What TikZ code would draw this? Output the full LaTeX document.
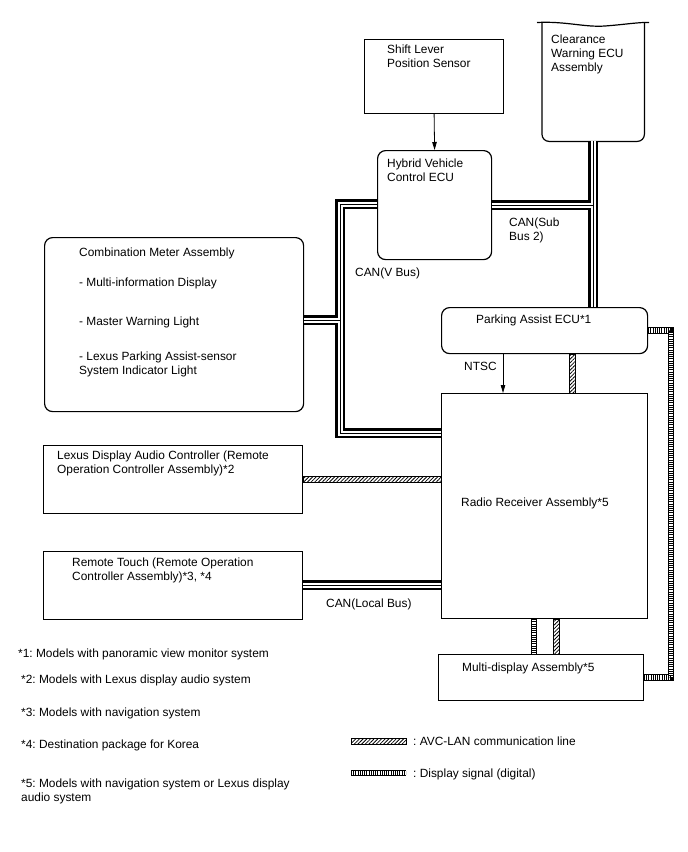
\documentclass[tikz,border=0pt]{standalone}
\usepackage{fontspec}
\setmainfont{Liberation Sans}
\frenchspacing
\usetikzlibrary{arrows.meta,patterns.meta,calc}
\begin{document}
\begin{tikzpicture}[x=1pt,y=-1pt,
  box/.style={draw, line width=1.2pt, inner sep=0, anchor=north west},
  rbox/.style={box, rounded corners=8pt},
  lbl/.style={inner sep=0, anchor=base west, align=left, font=\fontsize{11.9}{14}\selectfont\frenchspacing},
  arr/.style={line width=0.8pt, -{Triangle[length=8pt,width=4.5pt]}},
  busouter/.style={line width=10.5pt, line join=miter},
  buswhite/.style={white, line width=5pt, line join=miter},
  businner/.style={line width=0.9pt, line join=miter},
  avc/.style={draw, line width=0.7pt, pattern={Lines[angle=45,distance=2.6pt,line width=0.8pt]}},
  dsouter/.style={line width=6.5pt, line join=miter},
  dswhite/.style={white, line width=4.8pt, line join=miter},
  dsticks/.style={line width=4.8pt, dash pattern=on 0.9pt off 1.3pt},
]
\useasboundingbox (0,0) rectangle (688,852);

% boxes
\node[box, minimum width=139, minimum height=74] (slp) at (364,39) {};
\node[inner sep=0, anchor=north west, minimum width=102, minimum height=118] (cw) at (542,23) {};
\node[rbox, minimum width=114, minimum height=109] (hv) at (377,150) {};
\node[rbox, minimum width=206, minimum height=46] (pa) at (441,307) {};
\node[box, minimum width=206, minimum height=225] (radio) at (441,393) {};
\node[box, minimum width=205, minimum height=46] (md) at (438,654) {};
\node[rbox, minimum width=259, minimum height=174] (cm) at (44,237) {};
\node[box, minimum width=259, minimum height=68] (lda) at (43,445) {};
\node[box, minimum width=259, minimum height=68] (rt) at (43,551) {};

% clearance warning ECU shape
\draw[line width=1.2pt, rounded corners=7pt] (cw.north west) -- (cw.south west) -- (cw.south east) -- (cw.north east);
\draw[line width=1.2pt] (537,22.5) .. controls (565,21) and (585,27.5) .. (605,26) .. controls (625,24.5) and (640,22) .. (649,22.5);

% bus coordinates
\coordinate (vbt) at (340,204);
\coordinate (vbm) at (340,320);
\coordinate (vbb) at (340,433);
\coordinate (sbj) at (cw.south |- hv.east);
\coordinate (lby) at (0,585);
\coordinate (avx) at (572,0);
\coordinate (avx2) at (556,0);
\coordinate (dsx) at (534,0);
\coordinate (dsr) at (671,0);
\coordinate (ntx) at (503,0);

% CAN buses (three layers)
\foreach \st in {busouter,buswhite,businner}{
  \draw[\st] (hv.west |- vbt) -- (vbt) -- (vbb) -- (radio.west |- vbb);
  \draw[\st] (cm.east |- vbm) -- (vbm);
  \draw[\st] (hv.east |- sbj) -- (sbj);
  \draw[\st] (cw.south) -- (cw.south |- pa.north);
  \draw[\st] (rt.east |- lby) -- (radio.west |- lby);
}

% AVC-LAN lines
\draw[avc] ($(pa.south -| avx)+(-3,0)$) rectangle ($(radio.north -| avx)+(3,0)$);
\draw[avc] ($(lda.east)+(0,-3)$) rectangle ($(radio.west |- lda.east)+(0,3)$);
\draw[avc] ($(radio.south -| avx2)+(-3,0)$) rectangle ($(md.north -| avx2)+(3,0)$);

% display signal lines
\foreach \st in {dsouter,dswhite,dsticks}{
  \draw[\st] (pa.east) -- (pa.east -| dsr) -- (md.east -| dsr) -- (md.east);
  \draw[\st] (radio.south -| dsx) -- (md.north -| dsx);
}

% arrows
\draw[arr] (slp.south) -- (hv.north);
\draw[arr] (pa.south -| ntx) -- (radio.north -| ntx);

% labels (base = last line)
\node[lbl] (tslp) at (387,67.5) {Shift Lever\\Position Sensor};
\node[lbl] (tcw) at (551,71.5) {Clearance\\Warning ECU\\Assembly};
\node[lbl] (thv) at (387,181.5) {Hybrid Vehicle\\Control ECU};
\node[lbl] (tsub) at (509,240.5) {CAN(Sub\\Bus 2)};
\node[lbl] (tvbus) at (355,276.5) {CAN(V Bus)};
\node[lbl] (tpa) at (476,323.5) {Parking Assist ECU*1};
\node[lbl] (tntsc) at (464,370.5) {NTSC};
\node[lbl] (tcm1) at (79,256.5) {Combination Meter Assembly};
\node[lbl] (tcm2) at (79,286.5) {- Multi-information Display};
\node[lbl] (tcm3) at (79,325.5) {- Master Warning Light};
\node[lbl] (tcm4) at (79,374.5) {- Lexus Parking Assist-sensor\\System Indicator Light};
\node[lbl] (tlda) at (57,473.5) {Lexus Display Audio Controller (Remote\\Operation Controller Assembly)*2};
\node[lbl] (trt) at (72,580.5) {Remote Touch (Remote Operation\\Controller Assembly)*3, *4};
\node[lbl] (tlb) at (326,607.5) {CAN(Local Bus)};
\node[lbl] (tradio) at (461,506.5) {Radio Receiver Assembly*5};
\node[lbl] (tmd) at (462,671.5) {Multi-display Assembly*5};

% footnotes
\node[lbl] (f1) at (18,657.5) {*1: Models with panoramic view monitor system};
\node[lbl] (f2) at (21,683.5) {*2: Models with Lexus display audio system};
\node[lbl] (f3) at (21,716.5) {*3: Models with navigation system};
\node[lbl] (f4) at (21,748.5) {*4: Destination package for Korea};
\node[lbl] (f5) at (21,801) {*5: Models with navigation system or Lexus display\\audio system};

% legend
\coordinate (lg1a) at (351,741);
\coordinate (lg1b) at (406,741);
\coordinate (lg2a) at (351,773);
\coordinate (lg2b) at (406,773);
\draw[avc] ($(lg1a)+(0,-3)$) rectangle ($(lg1b)+(0,3)$);
\foreach \st in {dsouter,dswhite,dsticks}{
  \draw[\st] (lg2a) -- (lg2b);
}
\node[lbl] (tl1) at (413,745.5) {: AVC-LAN communication line};
\node[lbl] (tl2) at (413,777.5) {: Display signal (digital)};
\end{tikzpicture}
\end{document}
